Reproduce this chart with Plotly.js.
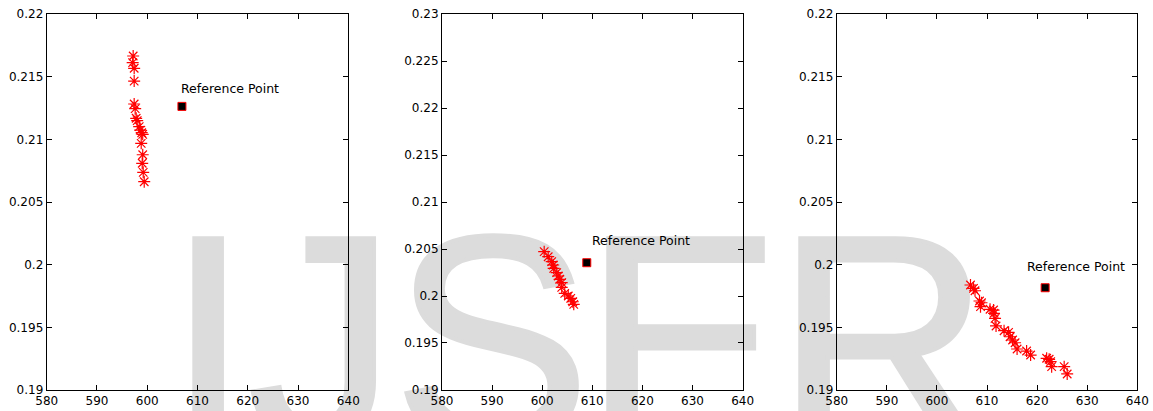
<!DOCTYPE html>
<html>
<head>
<meta charset="utf-8">
<script src="https://cdn.plot.ly/plotly-3.0.1.min.js"></script>
<style>
  html, body { margin: 0; padding: 0; background: #ffffff; }
  #wrap { position: relative; width: 1153px; height: 411px; overflow: hidden; }
  #wm { position: absolute; left: 0; top: 0; }
  #chart { position: absolute; left: 0; top: 0; width: 1153px; height: 411px; }
</style>
</head>
<body>
<div id="wrap">
  <svg id="wm" width="1153" height="411" xmlns="http://www.w3.org/2000/svg">
    <g font-family="Liberation Sans, Arial, sans-serif" font-size="296" fill="#dcdcdc" stroke="#dcdcdc" stroke-width="4">
      <text x="167" y="442">I</text>
      <text x="248" y="442">J</text>
      <text x="393" y="442">S</text>
      <text x="584" y="442">E</text>
      <text x="776" y="442">R</text>
    </g>
  </svg>
  <div id="chart"></div>
</div>
<script>
// Panel 1
const p1X = [597.2, 597.1, 597.4, 597.4, 597.4, 597.6, 597.8, 598.0, 598.4, 598.6, 598.9, 599.1, 598.8, 599.1, 599.0, 599.2, 599.4];
const p1Y = [0.21665, 0.21612, 0.21567, 0.21465, 0.21282, 0.21245, 0.21168, 0.21149, 0.21101, 0.21074, 0.21053, 0.21040, 0.20968, 0.20877, 0.20809, 0.20737, 0.20662];
const p1Ref = [606.9, 0.21263];
// Panel 2
const p2X = [600.4, 601.2, 601.9, 602.2, 602.3, 602.9, 603.2, 603.5, 603.9, 603.9, 604.5, 605.2, 605.7, 606.1, 606.3];
const p2Y = [0.20472, 0.20418, 0.20365, 0.20330, 0.20294, 0.20248, 0.20213, 0.20178, 0.20142, 0.20092, 0.20028, 0.20000, 0.19975, 0.19939, 0.19911];
const p2Ref = [608.9, 0.20354];
// Panel 3
const p3X = [606.7, 607.3, 607.6, 608.5, 608.9, 608.7, 610.6, 611.3, 611.4, 611.6, 611.8, 613.4, 614.3, 614.6, 615.1, 615.6, 616.0, 617.9, 618.7, 621.9, 622.4, 622.7, 622.9, 625.4, 626.0];
const p3Y = [0.19838, 0.19811, 0.19792, 0.19710, 0.19696, 0.19665, 0.19644, 0.19638, 0.19612, 0.19572, 0.19511, 0.19473, 0.19460, 0.19425, 0.19399, 0.19377, 0.19327, 0.19311, 0.19279, 0.19253, 0.19245, 0.19226, 0.19186, 0.19186, 0.19128];
const p3Ref = [621.6, 0.19816];

const refLabel = "Reference Point";
const labelPos = [[606.5, 0.21402], [609.8, 0.20588], [617.8, 0.19984]];

const xTicks = [580, 590, 600, 610, 620, 630, 640];
const yTicks1 = [0.19, 0.195, 0.2, 0.205, 0.21, 0.215, 0.22];
const yTicks2 = [0.19, 0.195, 0.2, 0.205, 0.21, 0.215, 0.22, 0.225, 0.23];
const yTicks3 = [0.19, 0.195, 0.2, 0.205, 0.21, 0.215, 0.22];

const series = [[p1X, p1Y, p1Ref], [p2X, p2Y, p2Ref], [p3X, p3Y, p3Ref]];
const traces = [];
series.forEach((s, i) => {
  const xa = i === 0 ? 'x' : 'x' + (i + 1);
  const ya = i === 0 ? 'y' : 'y' + (i + 1);
  traces.push({
    x: s[0], y: s[1], xaxis: xa, yaxis: ya, type: 'scatter', mode: 'markers',
    marker: { symbol: 'asterisk-open', size: 10, color: 'red', line: { color: 'red', width: 1.2 } },
    hoverinfo: 'skip', showlegend: false
  });
  traces.push({
    x: [s[2][0]], y: [s[2][1]], xaxis: xa, yaxis: ya, type: 'scatter', mode: 'markers',
    marker: { symbol: 'square', size: 8, color: 'black', line: { color: 'red', width: 1 } },
    hoverinfo: 'skip', showlegend: false
  });
});

const tickFont = { family: 'DejaVu Sans, sans-serif', size: 12, color: '#000' };
function xAxis(dom, anchor) {
  return {
    domain: dom, anchor: anchor, range: [580, 640], tickvals: xTicks, ticktext: xTicks.map(String),
    showline: true, linecolor: '#000', linewidth: 1, mirror: 'ticks', ticks: 'inside', ticklen: 5,
    tickcolor: '#000', showgrid: false, zeroline: false, tickfont: tickFont
  };
}
function yAxis(range, vals, anchor) {
  return {
    domain: [0.0511, 0.9659], anchor: anchor, range: range, tickvals: vals, ticktext: vals.map(String),
    showline: true, linecolor: '#000', linewidth: 1, mirror: 'ticks', ticks: 'inside', ticklen: 5,
    tickcolor: '#000', showgrid: false, zeroline: false, tickfont: tickFont
  };
}

const annotations = labelPos.map((p, i) => ({
  xref: i === 0 ? 'x' : 'x' + (i + 1), yref: i === 0 ? 'y' : 'y' + (i + 1),
  x: p[0], y: p[1], text: refLabel, showarrow: false, xanchor: 'left', yanchor: 'middle',
  borderpad: 0, font: { family: 'DejaVu Sans, sans-serif', size: 12.5, color: '#000' }
}));

const layout = {
  width: 1153, height: 411, autosize: false,
  margin: { l: 0, r: 0, t: 0, b: 0 },
  paper_bgcolor: 'rgba(0,0,0,0)', plot_bgcolor: 'rgba(0,0,0,0)',
  xaxis: xAxis([0.0405, 0.3021], 'y'),
  xaxis2: xAxis([0.3833, 0.6441], 'y2'),
  xaxis3: xAxis([0.7257, 0.9864], 'y3'),
  yaxis: yAxis([0.19, 0.22], yTicks1, 'x'),
  yaxis2: yAxis([0.19, 0.23], yTicks2, 'x2'),
  yaxis3: yAxis([0.19, 0.22], yTicks3, 'x3'),
  annotations: annotations,
  showlegend: false
};

Plotly.newPlot('chart', traces, layout, { displayModeBar: false, staticPlot: true });
</script>
</body>
</html>
